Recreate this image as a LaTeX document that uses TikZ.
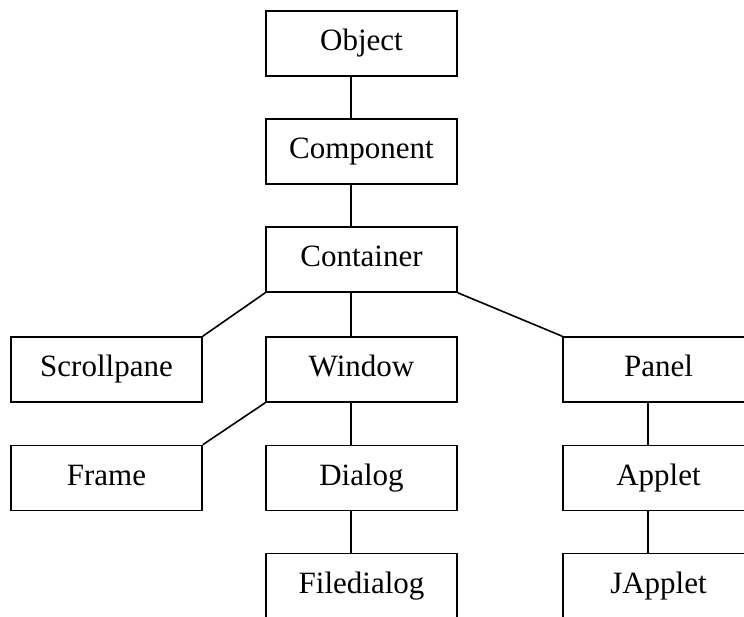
\documentclass[tikz,border=0pt]{standalone}
\usepackage{fontspec}
\setmainfont{Liberation Serif}
\usepackage{tikz}
\usetikzlibrary{positioning}

\newcommand\linkshift{-10.5pt}

\begin{document}
\begin{tikzpicture}[% styles used in image code
   x = 1pt, y = -1pt,
box/.style = {draw, line width=1.6pt,
              minimum width=191pt, minimum height=65pt,
              inner sep=0pt, text height=21pt, text depth=7pt,
              font=\fontsize{31}{36}\selectfont},
link/.style = {line width=1.6pt}
                    ]
	% page size, boxes on the right and bottom run off it
	\useasboundingbox (0,0) rectangle (744,617);
	\clip (0,0) rectangle (744,617);

	% class boxes
	\node[box] (obj)     at (361.5, 43.5) {Object};
	\node[box] (comp)    at (361.5,151.5) {Component};
	\node[box] (cont)    at (361.5,259.5) {Container};
	\node[box] (scroll)  at (106.5,369.5) {Scrollpane};
	\node[box] (win)     at (361.5,369.5) {Window};
	\node[box] (panel)   at (658.5,369.5) {Panel};
	\node[box] (frame)   at (106.5,478)   {Frame};
	\node[box] (dialog)  at (361.5,478)   {Dialog};
	\node[box] (applet)  at (658.5,478)   {Applet};
	\node[box] (filedlg) at (361.5,586)   {Filedialog};
	\node[box] (japplet) at (658.5,586)   {JApplet};

	% connectors
	\draw[link] ([xshift=\linkshift]obj.south)    -- ([xshift=\linkshift]comp.north);
	\draw[link] ([xshift=\linkshift]comp.south)   -- ([xshift=\linkshift]cont.north);
	\draw[link] ([xshift=\linkshift]cont.south)   -- ([xshift=\linkshift]win.north);
	\draw[link] (cont.south west) -- (scroll.north east);
	\draw[link] (cont.south east) -- (panel.north west);
	\draw[link] (win.south west)  -- (frame.north east);
	\draw[link] ([xshift=\linkshift]win.south)    -- ([xshift=\linkshift]dialog.north);
	\draw[link] ([xshift=\linkshift]dialog.south) -- ([xshift=\linkshift]filedlg.north);
	\draw[link] ([xshift=\linkshift]panel.south)  -- ([xshift=\linkshift]applet.north);
	\draw[link] ([xshift=\linkshift]applet.south) -- ([xshift=\linkshift]japplet.north);
\end{tikzpicture}
\end{document}
